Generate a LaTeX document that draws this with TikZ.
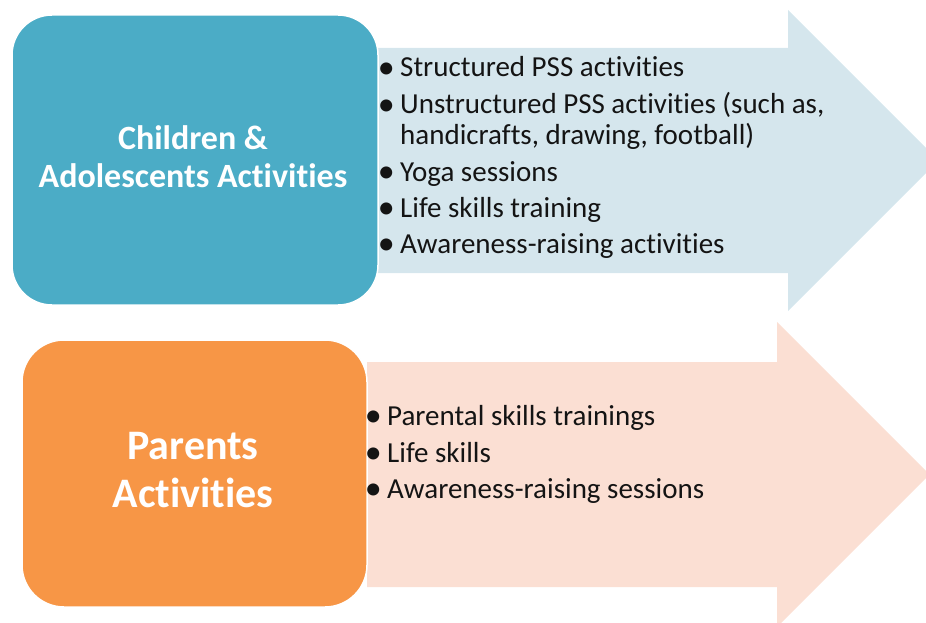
\documentclass[tikz,border=0pt]{standalone}
\usepackage{fontspec}
\setmainfont{Carlito}[RawFeature={-liga;-clig;-calt;-dlig}]
\definecolor{tealbox}{HTML}{4BACC6}
\definecolor{orangebox}{HTML}{F79646}
\definecolor{arrowblue}{HTML}{D5E6ED}
\definecolor{arrowpeach}{HTML}{FBDFD3}
\definecolor{itemtext}{HTML}{141414}
\tikzset{
  catbox/.style={draw=white, line width=1.5pt, rounded corners=40pt, inner sep=0pt},
  catlabel/.style={text=white, align=center, inner sep=0pt, font=\bfseries#1},
  item/.style={anchor=base west, inner sep=0pt, text=itemtext, font=\fontsize{29}{35}\selectfont}
}
\newcommand{\bul}{\llap{\raisebox{-1.5pt}{\fontsize{34}{34}\selectfont •}\hspace{5.5pt}}}
\begin{document}
\begin{tikzpicture}[x=1pt,y=-1pt]
\useasboundingbox (0,0) rectangle (926,623);
\clip (0,0) rectangle (926,623);
% arrows
\fill[arrowblue] (378,48) -- (788,48) -- (788,10) -- (938.5,160.5) -- (788,311) -- (788,273) -- (378,273) -- cycle;
\fill[arrowpeach] (367,362) -- (777,362) -- (777,322) -- (929.5,474.5) -- (777,627) -- (777,587) -- (367,587) -- cycle;
% boxes
\node[catbox, fill=tealbox, minimum width=366pt, minimum height=290pt] (cbox) at (195,160) {};
\node[catbox, fill=orangebox, minimum width=345pt, minimum height=267pt, rounded corners=42pt] (pbox) at (194.5,473.5) {};
\node[catlabel={\fontsize{34}{38}\selectfont}] (clabel) at (193,157) {Children \&\\Adolescents Activities};
\node[catlabel={\fontsize{42}{48}\selectfont}] (plabel) at (193,470.5) {Parents\\Activities};
% items top
\node[item] (t1) at (400,77) {\bul Structured PSS activities};
\node[item] (t2) at (400,114) {\bul Unstructured PSS activities (such as,};
\node[item] (t3) at (400,145) {handicrafts, drawing, football)};
\node[item] (t4) at (400,181) {\bul Yoga sessions};
\node[item] (t5) at (400,217) {\bul Life skills training};
\node[item] (t6) at (400,253) {\bul Awareness-raising activities};
% items bottom
\node[item] (b1) at (387,425) {\bul Parental skills trainings};
\node[item] (b2) at (387,462) {\bul Life skills};
\node[item] (b3) at (387,498) {\bul Awareness-raising sessions};
\end{tikzpicture}
\end{document}
